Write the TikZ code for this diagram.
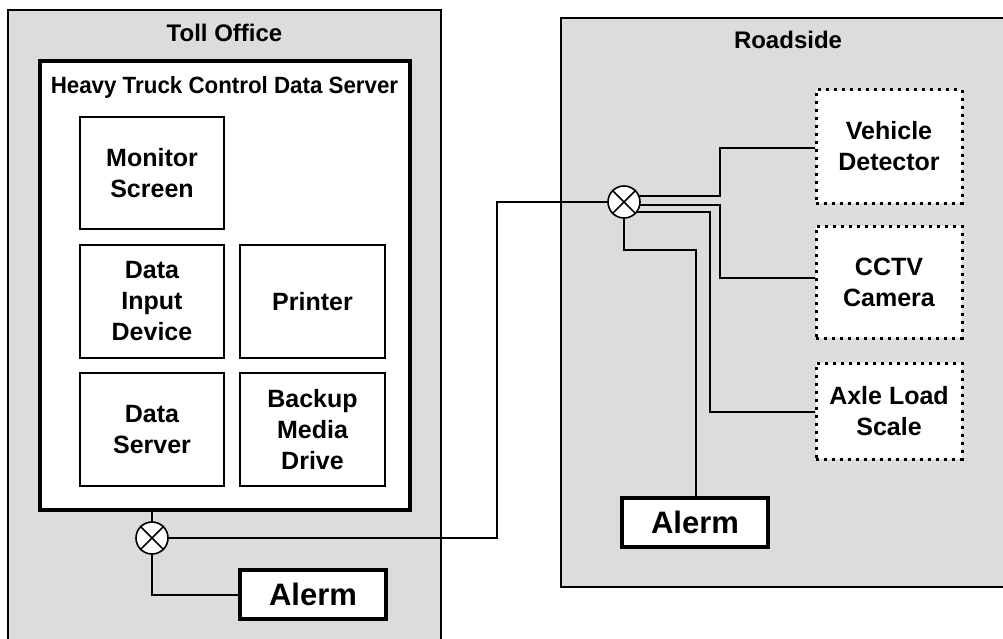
\documentclass[tikz,border=0pt]{standalone}
\usepackage{fontspec}
\setmainfont{Liberation Sans}
\newfontfamily\narrowsans[FakeStretch=0.95]{Liberation Sans}
\newcommand\bxfont{\fontsize{25}{31}\selectfont\bfseries}
\newcommand\ttlfont{\fontsize{24}{28}\selectfont\bfseries}
\newcommand\alfont{\fontsize{31}{36}\selectfont\bfseries}
\pgfdeclarelayer{back}
\pgfdeclarelayer{wires}
\pgfsetlayers{back,wires,main}
\definecolor{zonegray}{HTML}{DCDCDC}
\tikzset{
  zone/.style={draw, line width=1.8pt, fill=zonegray, inner sep=0pt},
  group/.style={draw, line width=3.4pt, fill=white, inner sep=0pt},
  unit/.style={draw, line width=1.7pt, fill=white, inner sep=0pt, align=center,
    font=\bxfont, minimum width=144pt, minimum height=113pt},
  sensor/.style={draw, line width=3pt, dash pattern=on 3pt off 5pt,
    fill=white, inner sep=0pt, align=center, font=\bxfont,
    minimum width=146pt, minimum height=113pt},
  alarm/.style={draw, line width=3.8pt, fill=white, inner sep=0pt,
    font=\alfont, minimum width=146pt, minimum height=49pt},
  junction/.style={draw, line width=1.6pt, fill=white, circle, inner sep=0pt,
    minimum size=32pt},
  title/.style={font=\ttlfont, anchor=base, inner sep=0pt},
  wire/.style={line width=1.6pt},
}
\begin{document}
\begin{tikzpicture}[x=1pt,y=-1pt]
\useasboundingbox (0,0) rectangle (1003,639);
\clip (0,0) rectangle (1003,639);

% two areas
\begin{pgfonlayer}{back}
  \node[zone, minimum width=433pt, minimum height=640pt] (toll) at (224.5,330) {};
  \node[zone, minimum width=452pt, minimum height=569pt] (road) at (787,302.5) {};
\end{pgfonlayer}
\node[title] (tolltitle) at (224.5,41.5) {Toll Office};
\node[title] (roadtitle) at (788,49) {Roadside};

% server group
\node[group, minimum width=370pt, minimum height=449pt] (server) at (225,285.5) {};
\node[inner sep=0pt, anchor=base, font={\fontsize{23.5}{28}\selectfont\narrowsans\bfseries}]
  (servertitle) at (224.5,94) {Heavy Truck Control Data Server};

\node[unit, minimum height=112pt] (mon) at (152,173) {Monitor\\Screen};
\node[unit] (din) at (152,301.5) {Data\\Input\\Device};
\node[unit, minimum width=145pt] (prn) at (312.5,301.5) {Printer};
\node[unit] (ds) at (152,429.5) {Data\\Server};
\node[unit, minimum width=145pt] (bak) at (312.5,429.5) {Backup\\Media\\Drive};

% toll office junction and alarm
\node[junction] (jl) at (152,538) {};
\node[alarm] (alL) at (313,594.5) {Alerm};

% roadside devices
\node[sensor] (veh) at (889,146.5) {Vehicle\\Detector};
\node[sensor, minimum height=112pt] (cam) at (889,282) {CCTV\\Camera};
\node[sensor, minimum height=96pt] (axl) at (889,411) {Axle Load\\Scale};
\node[junction] (jr) at (624,202) {};
\node[alarm] (alR) at (695,522.5) {Alerm};

\coordinate (link) at (497,202);

% crosses inside junctions
\foreach \j in {jl,jr}{
  \draw[wire] (\j.45) -- (\j.225);
  \draw[wire] (\j.135) -- (\j.-45);
}

\begin{pgfonlayer}{wires}
  \draw[wire] ([yshift=7pt]mon.west) -- ++(-16,0) |- (ds.west);
  \draw[wire] (ds.east) -- (bak.west);
  \draw[wire] (prn.south west) -- (ds.north east);
  \draw[wire] (ds.south) -- (jl.center);
  \draw[wire] (jl.center) |- ([yshift=-0.5pt]alL.west);
  \draw[wire] (jl.center) -| (link) -- (jr.center);
  \draw[wire] ([yshift=6pt]jr.center) -- ++(96,0) |- ([yshift=-1.5pt]veh.west);
  \draw[wire] ([yshift=-3pt]jr.center) -- ++(96,0) |- ([yshift=4pt]cam.west);
  \draw[wire] ([yshift=-10pt]jr.center) -- ++(86,0) |- ([yshift=-1pt]axl.west);
  \draw[wire] (jr.center) -- ++(0,48) -| ([xshift=1pt]alR.north);
\end{pgfonlayer}
\end{tikzpicture}
\end{document}
